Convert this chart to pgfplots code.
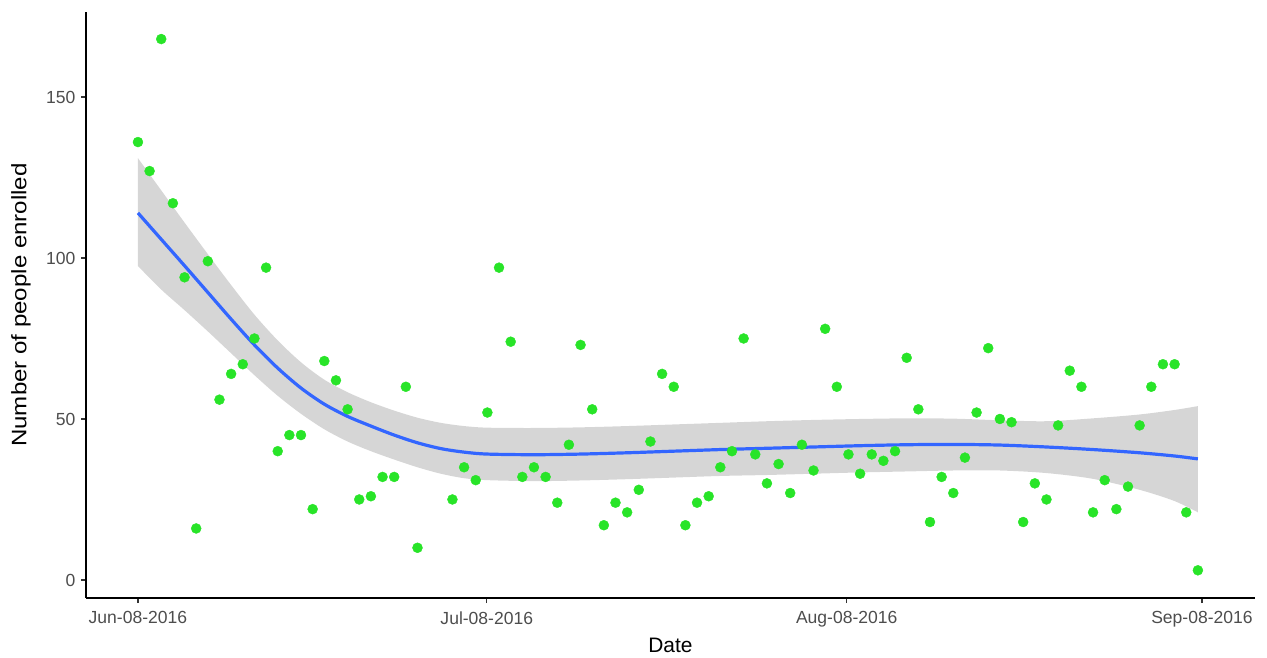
\documentclass[border=0pt]{standalone}
\usepackage{fontspec}
\setmainfont{Liberation Sans}
\usepackage{pgfplots}
\usepackage{pgfplotstable}
\pgfplotsset{compat=1.18}
\usepgfplotslibrary{fillbetween}
\definecolor{ptgreen}{RGB}{40,228,40}
\definecolor{lineblue}{RGB}{51,102,255}
\definecolor{bandgray}{RGB}{153,153,153}
\definecolor{tickgray}{RGB}{77,77,77}

\pgfplotstableread{
d n
0 136
1 127
2 168
3 117
4 94
5 16
6 99
7 56
8 64
9 67
10 75
11 97
12 40
13 45
14 45
15 22
16 68
17 62
18 53
19 25
20 26
21 32
22 32
23 60
24 10
27 25
28 35
29 31
30 52
31 97
32 74
33 32
34 35
35 32
36 24
37 42
38 73
39 53
40 17
41 24
42 21
43 28
44 43
45 64
46 60
47 17
48 24
49 26
50 35
51 40
52 75
53 39
54 30
55 36
56 27
57 42
58 34
59 78
60 60
61 39
62 33
63 39
64 37
65 40
66 69
67 53
68 18
69 32
70 27
71 38
72 52
73 72
74 50
75 49
76 18
77 30
78 25
79 48
80 65
81 60
82 21
83 31
84 22
85 29
86 48
87 60
88 67
89 67
90 21
91 3
}\enroltab

\pgfplotstableread{
d fit up lo
0 114 131 97.5
2 105.8 121 90.2
4 97.6 111 83.8
6 89.3 101.2 77.2
8 81 91.6 70.4
10 73 82.4 63.6
12 65.8 74.4 57.2
14 59.6 67.6 51.6
16 54.6 62.2 46.8
18 50.8 58.3 43
20 47.8 55.2 40
22 45 52.6 37.4
24 42.6 50.4 35
26 40.8 48.8 33
28 39.7 47.8 31.6
30 39.1 47.3 31
34 38.9 47.2 30.7
38 39.1 47.4 30.9
42 39.5 47.8 31.3
46 40 48.3 31.8
50 40.5 48.8 32.3
54 40.9 49.3 32.6
58 41.3 49.7 33
62 41.7 50 33.4
66 42 50.2 33.7
70 42.1 50.1 34
74 41.9 49.6 34
78 41.3 49.3 33.2
82 40.5 50.2 31.4
86 39.5 51.4 28
89 38.5 52.8 24.5
91 37.6 54 21
}\fittab

\begin{document}
\begin{tikzpicture}
\begin{axis}[
  at={(86bp,60bp)}, anchor=south west,
  width=1169bp, height=586bp, scale only axis,
  xmin=-4.46, xmax=95.9, ymin=-5.6, ymax=176.4,
  axis x line*=bottom, axis y line*=left,
  axis line style={black, line width=1.5bp},
  tick align=outside, major tick length=5bp,
  tick style={color=black!80, line width=1.2bp},
  xtick={0,29.95,60.85,91.35},
  xticklabels={Jun-08-2016,Jul-08-2016,Aug-08-2016,Sep-08-2016},
  ytick={0,50,100,150},
  /pgf/number format/assume math mode=true,
  ticklabel style={font=\fontsize{17.6}{19}\selectfont, color=tickgray},
  xticklabel style={yshift=-5bp},
  yticklabel style={xshift=-2bp},
  label style={font=\fontsize{21}{23}\selectfont, color=black},
  xlabel={Date},
  ylabel={\scalebox{1.15}[1]{Number of people enrolled}},
  xlabel style={at={(axis description cs:0.5,-0.0802)}, anchor=center},
  ylabel style={at={(axis description cs:-0.0556,0.5)}, anchor=center},
]
\addplot[only marks, mark=*, mark size=5bp, color=ptgreen, mark options={draw=none, fill=ptgreen}] table[x=d, y=n] {\enroltab};
\addplot[name path=up, draw=none, smooth] table[x=d, y=up] {\fittab};
\addplot[name path=lo, draw=none, smooth] table[x=d, y=lo] {\fittab};
\addplot[fill=bandgray, fill opacity=0.4, draw=none] fill between[of=up and lo];
\addplot[color=lineblue, line width=3.2bp, smooth] table[x=d, y=fit] {\fittab};
\end{axis}
\path (0,0) rectangle (1267bp,658bp);
\end{tikzpicture}
\end{document}
